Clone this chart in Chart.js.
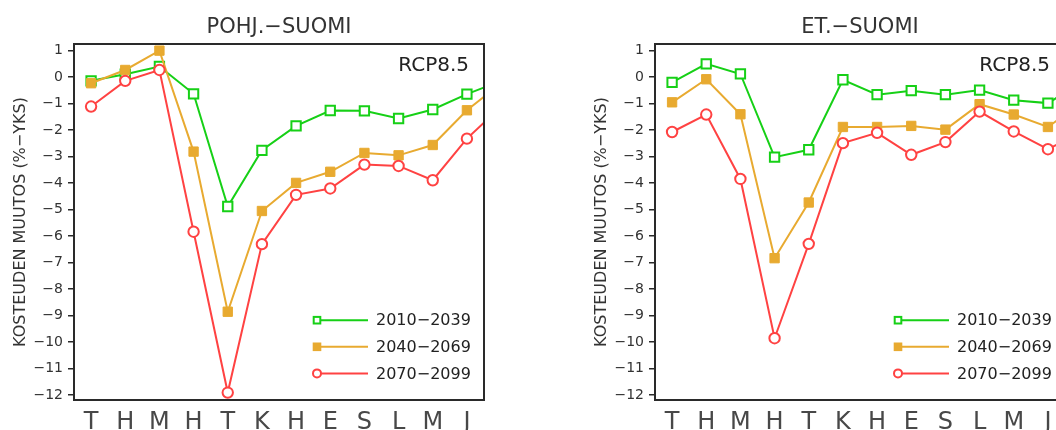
<!DOCTYPE html>
<html>
<head>
<meta charset="utf-8">
<script src="https://cdn.jsdelivr.net/npm/chart.js@4.4.1/dist/chart.umd.min.js"></script>
<style>
  html, body { margin: 0; padding: 0; background: #fff; overflow: hidden; }
  #wrap { position: relative; width: 1056px; height: 430px; overflow: hidden; background: #fff; }
  .panel { position: absolute; top: 0; width: 581px; height: 430px; }
</style>
</head>
<body>
<div id="wrap">
  <div class="panel" style="left:0px"><canvas id="c1" width="581" height="430"></canvas></div>
  <div class="panel" style="left:581px"><canvas id="c2" width="581" height="430"></canvas></div>
</div>
<script>
// ---- data ----
const months = ['T','H','M','H','T','K','H','E','S','L','M','J'];
const periods = ['2010\u22122039', '2040\u22122069', '2070\u22122099'];
const yTicks = [1, 0, -1, -2, -3, -4, -5, -6, -7, -8, -9, -10, -11, -12];
const panelTitles = ['POHJ.\u2212SUOMI', 'ET.\u2212SUOMI'];
const scenario = 'RCP8.5';
const yTitle = 'KOSTEUDEN MUUTOS (%\u2212YKS)';

const pohj2010 = [-0.15, 0.10, 0.39, -0.64, -4.89, -2.77, -1.85, -1.27, -1.28, -1.57, -1.23, -0.65];
const pohj2040 = [-0.24, 0.26, 0.99, -2.82, -8.86, -5.06, -4.00, -3.58, -2.87, -2.96, -2.57, -1.26];
const pohj2070 = [-1.12, -0.15, 0.26, -5.84, -11.91, -6.31, -4.45, -4.21, -3.31, -3.36, -3.90, -2.33];

const et2010 = [-0.21, 0.49, 0.11, -3.03, -2.75, -0.11, -0.67, -0.52, -0.67, -0.50, -0.88, -0.99];
const et2040 = [-0.96, -0.09, -1.41, -6.84, -4.74, -1.89, -1.89, -1.85, -1.99, -1.03, -1.42, -1.89];
const et2070 = [-2.08, -1.42, -3.85, -9.86, -6.30, -2.50, -2.11, -2.94, -2.46, -1.31, -2.06, -2.73];

// ---- styles ----
const GREEN = '#16d016';
const YELLOW = '#e8aa30';
const RED = '#ff4242';
const INK = '#2a2a2a';
const FONT = "'DejaVu Sans', sans-serif";

// annual cycle: the curve continues past December toward the next January
function toPoints(vals) {
  const pts = vals.map((v, i) => ({x: i, y: v}));
  pts.push({x: vals.length, y: vals[0]});
  return pts;
}

function makeDatasets(a, b, c) {
  return [
    { label: periods[0], data: toPoints(a), borderColor: GREEN, borderWidth: 2,
      pointStyle: 'rect', pointRadius: 6.6, pointBorderWidth: 2,
      pointBorderColor: GREEN, pointBackgroundColor: '#fff', order: 2, clip: 0 },
    { label: periods[1], data: toPoints(b), borderColor: YELLOW, borderWidth: 2,
      pointStyle: 'rect', pointRadius: 6.6, pointBorderWidth: 1,
      pointBorderColor: YELLOW, pointBackgroundColor: YELLOW, order: 1, clip: 0 },
    { label: periods[2], data: toPoints(c), borderColor: RED, borderWidth: 2,
      pointStyle: 'circle', pointRadius: 5.2, pointBorderWidth: 2,
      pointBorderColor: RED, pointBackgroundColor: '#fff', order: 0, clip: 0 }
  ];
}

const decoPlugin = {
  id: 'deco',
  afterDatasetsDraw(chart, args, opts) {
    const ctx = chart.ctx;
    const a = chart.chartArea;
    ctx.save();
    // frame
    ctx.strokeStyle = INK;
    ctx.lineWidth = 2;
    ctx.strokeRect(a.left, a.top, a.right - a.left, a.bottom - a.top);
    // panel title
    ctx.fillStyle = '#333';
    ctx.font = '21px ' + FONT;
    ctx.textAlign = 'center';
    ctx.textBaseline = 'alphabetic';
    ctx.fillText(opts.title, (a.left + a.right) / 2, 33.3);
    // scenario label
    ctx.fillStyle = '#222';
    ctx.font = '20px ' + FONT;
    ctx.textAlign = 'right';
    ctx.fillText(scenario, a.right - 15, a.top + 27);
    // legend
    const ds = chart.data.datasets;
    const rows = [a.bottom - 79.8, a.bottom - 53.2, a.bottom - 26.6];
    ctx.font = '16px ' + FONT;
    ctx.textAlign = 'left';
    ctx.textBaseline = 'middle';
    ds.forEach((d, i) => {
      const y = rows[i];
      const x0 = a.right - 167, x1 = a.right - 116;
      ctx.strokeStyle = d.borderColor;
      ctx.lineWidth = 2;
      ctx.beginPath(); ctx.moveTo(x0, y); ctx.lineTo(x1, y); ctx.stroke();
      if (i === 0) {
        ctx.fillStyle = '#fff';
        ctx.fillRect(x0 - 3.3, y - 3.3, 6.6, 6.6);
        ctx.strokeRect(x0 - 3.3, y - 3.3, 6.6, 6.6);
      } else if (i === 1) {
        ctx.fillStyle = d.borderColor;
        ctx.fillRect(x0 - 4.3, y - 4.3, 8.6, 8.6);
      } else {
        ctx.fillStyle = '#fff';
        ctx.beginPath(); ctx.arc(x0, y, 4, 0, Math.PI * 2); ctx.fill(); ctx.stroke();
      }
      ctx.fillStyle = '#222';
      ctx.fillText(d.label, a.right - 108, y + 1);
    });
    ctx.restore();
  }
};

function makeChart(id, title, a, b, c) {
  return new Chart(document.getElementById(id), {
    type: 'line',
    data: { datasets: makeDatasets(a, b, c) },
    plugins: [decoPlugin],
    options: {
      responsive: false,
      animation: false,
      devicePixelRatio: 1,
      layout: { padding: { top: 44, right: 97, bottom: 0, left: 0 } },
      plugins: {
        legend: { display: false },
        title: { display: false },
        tooltip: { enabled: false },
        deco: { title: title }
      },
      scales: {
        x: {
          type: 'linear',
          min: -0.5, max: 11.5,
          afterBuildTicks: s => { s.ticks = months.map((m, i) => ({value: i})); },
          afterFit: s => { s.height = 30; },
          grid: { display: false, drawTicks: false, tickLength: 0 },
          border: { display: false },
          ticks: {
            autoSkip: false, maxRotation: 0, padding: 8,
            color: '#484848',
            font: { family: FONT, size: 24 },
            callback: v => months[v] !== undefined ? months[v] : ''
          }
        },
        y: {
          type: 'linear',
          min: -12.19, max: 1.24,
          afterBuildTicks: s => { s.ticks = yTicks.map(v => ({value: v})); },
          afterFit: s => { s.width = 74; },
          grid: { drawOnChartArea: false, drawTicks: true, tickLength: 6, color: INK, lineWidth: 1.5 },
          border: { display: false },
          ticks: {
            padding: 5, color: '#333',
            font: { family: FONT, size: 14 },
            callback: v => (v < 0 ? '\u2212' + Math.abs(v) : String(v))
          },
          title: {
            display: true, text: yTitle, color: '#333',
            font: { family: FONT, size: 16 },
            padding: { top: 11, bottom: 0 }
          }
        }
      }
    }
  });
}

makeChart('c1', panelTitles[0], pohj2010, pohj2040, pohj2070);
makeChart('c2', panelTitles[1], et2010, et2040, et2070);
</script>
</body>
</html>
